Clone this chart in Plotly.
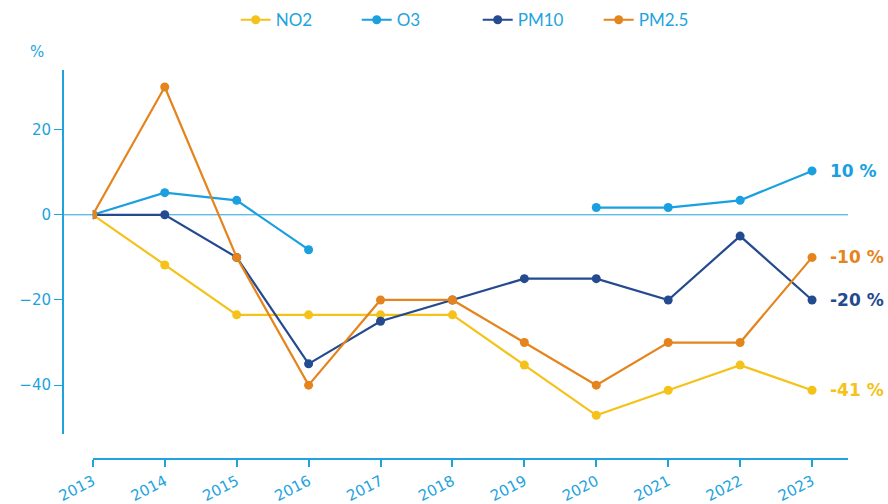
import plotly.graph_objects as go

years = [2013, 2014, 2015, 2016, 2017, 2018, 2019, 2020, 2021, 2022, 2023]
no2 = [0, -11.8, -23.5, -23.5, -23.5, -23.5, -35.3, -47.1, -41.2, -35.3, -41.2]
o3 = [0, 5.2, 3.4, -8.2, None, None, None, 1.7, 1.7, 3.4, 10.3]
pm10 = [0, 0, -10, -35, -25, -20, -15, -15, -20, -5, -20]
pm25 = [0, 30, -10, -40, -20, -20, -30, -40, -30, -30, -10]

series = [
    ("NO2", no2, "#f5c21a"),
    ("O3", o3, "#1aa0e0"),
    ("PM10", pm10, "#244a8f"),
    ("PM2.5", pm25, "#e5841c"),
]

axis_color = "#1ea3dd"

fig = go.Figure()
for name, vals, col in series:
    fig.add_trace(go.Scatter(
        x=years, y=vals, name=name, mode="lines+markers",
        line=dict(color=col, width=2.2),
        marker=dict(color=col, size=9),
        connectgaps=False,
    ))
    fig.add_annotation(
        x=years[-1], y=vals[-1], xref="x", yref="y",
        text=f"{round(vals[-1])} %", showarrow=False,
        xanchor="left", xshift=16,
        font=dict(family="DejaVu Sans, sans-serif", size=17, color=col, weight="bold"),
    )

fig.add_shape(type="line", xref="paper", yref="y", x0=0, x1=1, y0=0, y1=0,
              line=dict(color=axis_color, width=1), layer="below")

fig.add_annotation(x=-0.033, y=1.046, xref="paper", yref="paper", text="%",
                   showarrow=False, xanchor="center", yanchor="middle",
                   font=dict(family="DejaVu Sans, sans-serif", size=15, color=axis_color))

fig.update_layout(
    width=888, height=504,
    margin=dict(l=63, r=40, t=70, b=45, autoexpand=False),
    plot_bgcolor="white", paper_bgcolor="white",
    showlegend=True,
    legend=dict(orientation="h", x=0.22, xanchor="left", y=1.128, yanchor="middle",
                font=dict(family="Lato", size=17, color=axis_color),
                entrywidth=76, entrywidthmode="pixels", tracegroupgap=0),
    xaxis=dict(
        domain=[0.038, 1], range=[2013, 2023.5], anchor="free", position=0,
        tickmode="array", tickvals=years, ticktext=[str(y) for y in years],
        showline=True, linecolor=axis_color, linewidth=2,
        ticks="outside", ticklen=7, tickwidth=2, tickcolor=axis_color,
        tickangle=-27, showgrid=False, zeroline=False,
        tickfont=dict(family="DejaVu Sans, sans-serif", size=15, color=axis_color),
    ),
    yaxis=dict(
        domain=[0.064, 1], range=[-51.5, 34], anchor="free", position=0,
        tickvals=[-40, -20, 0, 20],
        showline=True, linecolor=axis_color, linewidth=2,
        ticks="outside", ticklen=8, tickwidth=1, tickcolor=axis_color,
        showgrid=False, zeroline=False,
        tickfont=dict(family="DejaVu Sans, sans-serif", size=15, color=axis_color),
    ),
)

fig.write_html("out.html", post_script="document.body.style.margin='0';",
               config={"displayModeBar": False})
